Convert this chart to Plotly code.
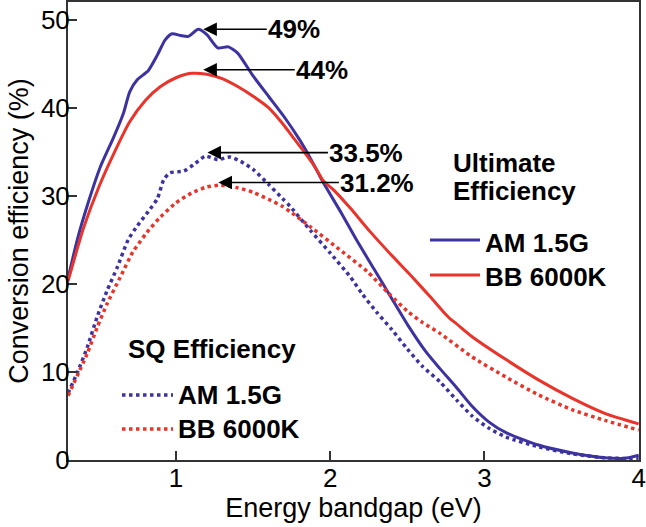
import plotly.graph_objects as go

# ---------------- data ----------------
ult_am_x = [0.30, 0.36, 0.425, 0.51, 0.595, 0.66, 0.70, 0.75, 0.82, 0.88, 0.93, 0.975, 1.03, 1.08,
            1.145, 1.20, 1.27, 1.34, 1.40, 1.50, 1.60, 1.70, 1.80, 1.87, 1.955, 2.07,
            2.17, 2.28, 2.39, 2.50, 2.62, 2.71, 2.82, 2.92, 3.03, 3.14, 3.35, 3.57, 3.78, 3.91, 4.00]
ult_am_y = [20.6, 25.0, 28.9, 33.3, 36.6, 39.4, 41.8, 43.2, 44.2, 46.0, 47.7, 48.4, 48.2, 48.1,
            48.9, 48.3, 46.8, 46.9, 46.2, 43.6, 41.3, 39.0, 36.4, 34.3, 31.5, 28.1,
            25.0, 21.8, 18.6, 15.4, 12.3, 10.4, 8.2, 6.1, 4.3, 3.1, 1.7, 0.8, 0.25, 0.2, 0.55]

ult_bb_x = [0.30, 0.40, 0.50, 0.60, 0.70, 0.80, 0.90, 1.00, 1.10, 1.20, 1.30, 1.40, 1.50, 1.60,
            1.70, 1.76, 1.83, 1.90, 1.955, 2.02, 2.13, 2.26, 2.39, 2.52, 2.65, 2.73, 2.78, 2.81,
            2.92, 3.14, 3.35, 3.57, 3.78, 4.00]
ult_bb_y = [20.3, 26.3, 31.0, 34.9, 38.4, 40.8, 42.4, 43.4, 43.9, 43.8, 43.3, 42.4, 41.3, 40.0,
            38.0, 36.6, 35.0, 33.3, 31.7, 30.7, 28.6, 25.9, 23.4, 21.0, 18.5, 16.9, 16.0, 15.6,
            14.0, 11.4, 9.1, 7.0, 5.3, 4.1]

sq_am_x = [0.30, 0.36, 0.425, 0.49, 0.555, 0.62, 0.69, 0.75, 0.82, 0.88, 0.92, 0.96, 1.05, 1.12,
           1.19, 1.27, 1.35, 1.42, 1.50, 1.60, 1.69, 1.74, 1.87, 2.00, 2.13, 2.21, 2.30, 2.40,
           2.50, 2.60, 2.71, 2.82, 2.92, 3.03, 3.14, 3.35, 3.57, 3.78, 4.00]
sq_am_y = [7.6, 9.9, 12.8, 16.3, 19.3, 21.9, 25.0, 26.6, 28.2, 29.7, 31.8, 32.6, 32.8, 33.6,
           34.5, 34.1, 34.4, 33.9, 33.0, 31.3, 29.7, 28.8, 26.1, 23.5, 20.8, 18.8, 16.8, 14.8,
           12.6, 10.6, 8.9, 6.8, 5.0, 3.6, 2.6, 1.5, 0.7, 0.25, 0.15]

sq_bb_x = [0.30, 0.425, 0.49, 0.555, 0.64, 0.72, 0.81, 0.90, 1.00, 1.10, 1.20, 1.29, 1.40, 1.50,
           1.60, 1.69, 1.74, 1.87, 2.06, 2.24, 2.38, 2.50, 2.60, 2.71, 2.92, 3.14, 3.35, 3.57,
           3.78, 4.00]
sq_bb_y = [7.3, 12.1, 15.1, 17.8, 20.8, 23.6, 25.8, 27.6, 29.2, 30.3, 31.0, 31.2, 30.9, 30.4,
           29.6, 28.8, 28.2, 26.5, 23.9, 21.4, 18.9, 16.9, 15.6, 14.4, 11.7, 9.4, 7.4, 5.7,
           4.5, 3.4]

peak_labels = ["49%", "44%", "33.5%", "31.2%"]
peak_x = [1.177, 1.177, 1.204, 1.275]
peak_y = [48.9, 44.3, 34.9, 31.5]

x_ticks = [1, 2, 3, 4]
y_ticks = [0, 10, 20, 30, 40, 50]

# ---------------- style ----------------
BLUE = "#3c32a0"
RED = "#e8342a"
FONT = "Liberation Sans, Arial, sans-serif"
W, H = 646, 527
ML, MR, MT, MB = 68, 7, 2, 67
PW, PH = W - ML - MR, H - MT - MB


def px2x(px):
    return (px - ML) / PW


def py2y(py):
    return (H - MB - py) / PH


fig = go.Figure()
series = [
    (ult_am_x, ult_am_y, BLUE, "solid", 3, "AM 1.5G (Ultimate)"),
    (ult_bb_x, ult_bb_y, RED, "solid", 3, "BB 6000K (Ultimate)"),
    (sq_am_x, sq_am_y, BLUE, "dot", 3.5, "AM 1.5G (SQ)"),
    (sq_bb_x, sq_bb_y, RED, "dot", 3.5, "BB 6000K (SQ)"),
]
for xs, ys, col, dash, w, name in series:
    fig.add_trace(go.Scatter(x=xs, y=ys, mode="lines", name=name,
                             line=dict(color=col, width=w, dash=dash, shape="spline", smoothing=0.6),
                             showlegend=False, hoverinfo="x+y+name"))

annotations = []
# peak arrows
offsets = [(91, 0), (119, 0), (159, 0), (159, 0)]
for lab, xv, yv, (dx, dy) in zip(peak_labels, peak_x, peak_y, offsets):
    annotations.append(dict(x=xv, y=yv, xref="x", yref="y", text=f"<b>{lab}</b>",
                            showarrow=True, ax=dx, ay=dy, axref="pixel", ayref="pixel",
                            arrowhead=2, arrowsize=1.7, arrowwidth=1.6, arrowcolor="black",
                            standoff=0, font=dict(family=FONT, size=26, color="black")))

# legend text blocks
def txt(px, py, s):
    annotations.append(dict(x=px2x(px), y=py2y(py), xref="paper", yref="paper",
                            xanchor="left", yanchor="middle", text=f"<b>{s}</b>",
                            showarrow=False, font=dict(family=FONT, size=26, color="black")))

txt(451, 163, "Ultimate")
txt(451, 191, "Efficiency")
txt(483, 243, "AM 1.5G")
txt(483, 277, "BB 6000K")
txt(126, 349, "SQ Efficiency")
txt(176, 395, "AM 1.5G")
txt(176, 429, "BB 6000K")

shapes = []
swatches = [(430, 480, 240, BLUE, "solid", 3), (430, 480, 275, RED, "solid", 3),
            (122, 173, 395, BLUE, "dot", 3.5), (122, 173, 429, RED, "dot", 3.5)]
for x0, x1, yy, col, dash, w in swatches:
    shapes.append(dict(type="line", xref="paper", yref="paper",
                       x0=px2x(x0), x1=px2x(x1), y0=py2y(yy), y1=py2y(yy),
                       line=dict(color=col, width=w, dash=dash)))

axis_common = dict(showline=True, linecolor="#333333", linewidth=2, mirror=True,
                   ticks="inside", ticklen=9, tickwidth=2, tickcolor="#333333",
                   showgrid=False, zeroline=False, automargin=False,
                   tickfont=dict(family=FONT, size=26, color="black"))

fig.update_layout(
    width=W, height=H,
    margin=dict(l=ML, r=MR, t=MT, b=MB),
    paper_bgcolor="white", plot_bgcolor="white",
    xaxis=dict(range=[0.3, 4.002], tickvals=x_ticks, ticklabelstandoff=-6, **axis_common,
               title=dict(text="Energy bandgap (eV)", font=dict(family=FONT, size=27, color="black"),
                          standoff=4)),
    yaxis=dict(range=[0, 52], tickvals=y_ticks, ticklabelstandoff=-9, **axis_common,
               title=dict(text="Conversion efficiency (%)", font=dict(family=FONT, size=27, color="black"),
                          standoff=4)),
    annotations=annotations,
    shapes=shapes,
    showlegend=False,
)

fig.write_html("out.html", config={"displayModeBar": False},
               post_script="document.body.style.margin='0px';document.body.style.overflow='hidden';")
